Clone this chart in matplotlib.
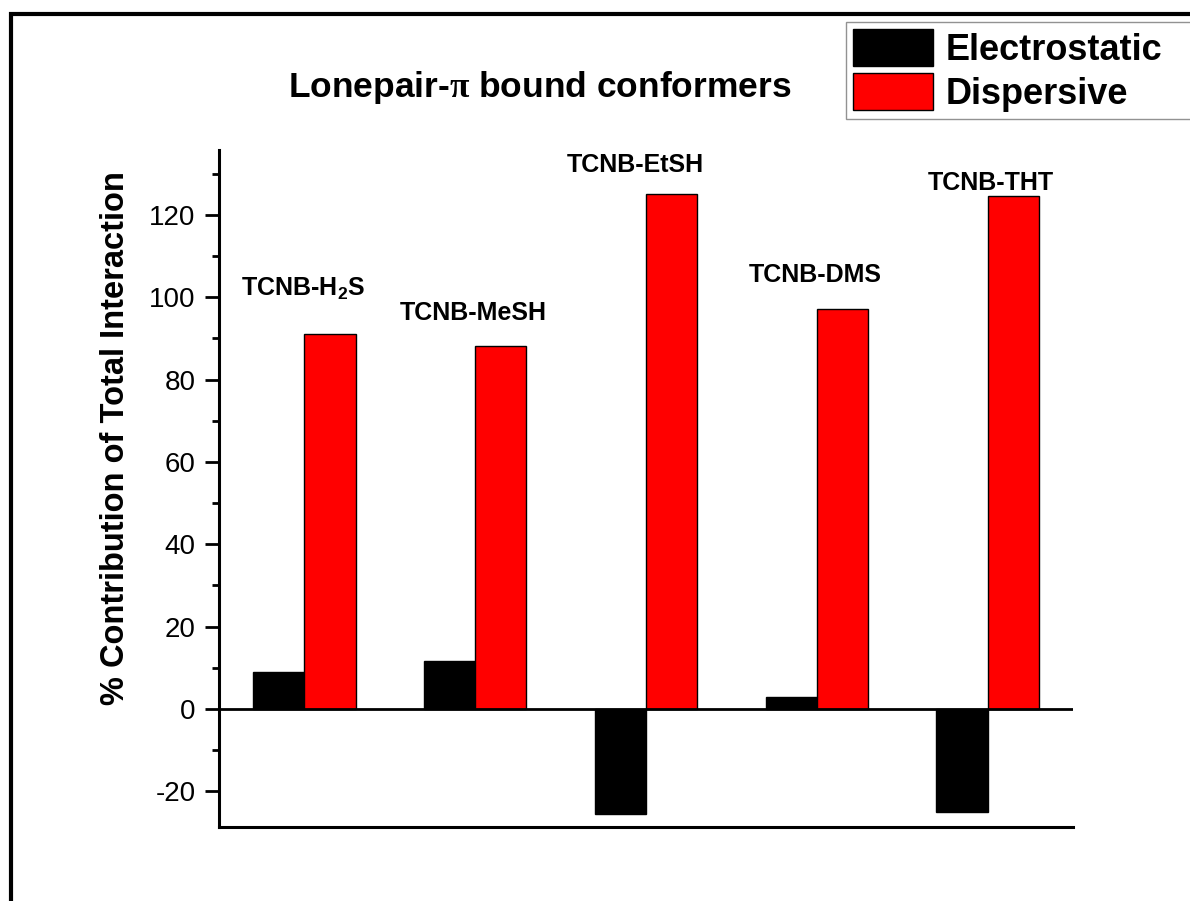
import numpy as np
import matplotlib
matplotlib.use('Agg')
import matplotlib.pyplot as plt
from matplotlib.patches import Rectangle

plt.rcParams['font.family'] = 'Liberation Sans'
plt.rcParams['axes.unicode_minus'] = False
plt.rcParams['mathtext.fontset'] = 'custom'
plt.rcParams['mathtext.rm'] = 'Liberation Serif:bold'
plt.rcParams['mathtext.sf'] = 'Liberation Sans:bold'

# data
conformers = ['TCNB-H$_\\mathsf{2}$S', 'TCNB-MeSH', 'TCNB-EtSH', 'TCNB-DMS', 'TCNB-THT']
electrostatic = [9.0, 11.6, -25.6, 2.9, -25.0]
dispersive = [91.1, 88.2, 125.0, 97.1, 124.7]

# where the conformer names sit (data coords)
label_x = [0.99, 1.99, 2.94, 3.99, 5.02]
label_y = [100.3, 94.5, 130.4, 103.7, 126.1]

fig = plt.figure(figsize=(11.9, 9.01), dpi=100)
ax = fig.add_axes([219/1190, 1 - 827/901, (1073-219)/1190, (827-150)/901])

x = np.arange(1, len(conformers) + 1)
w = 0.30
ax.bar(x - w/2, electrostatic, w, color='black', edgecolor='black', linewidth=1, label='Electrostatic')
ax.bar(x + w/2, dispersive, w, color='#ff0000', edgecolor='black', linewidth=1, label='Dispersive')
ax.axhline(0, color='black', linewidth=2, zorder=3)

ax.set_xlim(0.5, 5.5)
ax.set_ylim(-28.7, 135.8)
ax.set_yticks(np.arange(-20, 121, 20))
ax.set_yticks(np.arange(-20, 131, 10), minor=True)
ax.set_xticks([])
ax.tick_params(axis='y', which='major', direction='out', length=10, width=2, labelsize=20, pad=7)
ax.tick_params(axis='y', which='minor', direction='out', length=5, width=2)
for s in ['top', 'right']:
    ax.spines[s].set_visible(False)
for s in ['left', 'bottom']:
    ax.spines[s].set_linewidth(2.2)

ax.set_ylabel('% Contribution of Total Interaction', fontsize=23.5, fontweight='bold')
ax.yaxis.set_label_coords(-0.103, 0.575)

for name, lx, ly in zip(conformers, label_x, label_y):
    ax.text(lx, ly, name, ha='center', va='baseline', fontsize=18, fontweight='bold')

fig.text(539.5/1190, 1 - 97/901, 'Lonepair-$\\mathrm{\\pi}$ bound conformers',
         ha='center', va='baseline', fontsize=25.5, fontweight='bold')

# legend box runs off the right edge in the original
leg = fig.legend(loc='upper left', bbox_to_anchor=(846/1190, 1 - 118/901, 0.4, 96/901),
                 mode='expand', borderaxespad=0,
                 prop={'weight': 'bold', 'size': 26}, frameon=True, fancybox=False,
                 handlelength=2.2, handleheight=1.2, labelspacing=0.15, borderpad=0.2,
                 handletextpad=0.35)
leg.get_frame().set_edgecolor('#777777')
leg.get_frame().set_linewidth(1)

# thick frame round the whole picture (partly cut off at right and bottom)
fig.patches.append(Rectangle((11/1190, -0.1), 1.2, 1.1 - 14/901, transform=fig.transFigure,
                             fill=False, edgecolor='black', linewidth=3))

fig.savefig('out.png', dpi=100)
